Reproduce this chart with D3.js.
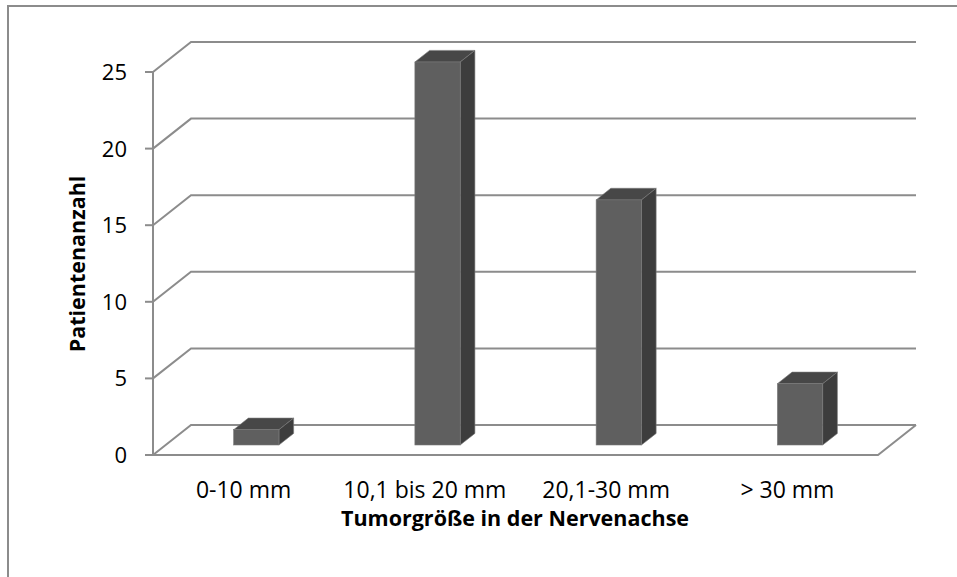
<!DOCTYPE html>
<html>
<head>
<meta charset="utf-8">
<script src="https://cdn.jsdelivr.net/npm/d3@7/dist/d3.min.js"></script>
<style>
  html, body { margin: 0; padding: 0; background: #ffffff; }
  svg { display: block; }
  text { font-family: "Open Sans", Lato, sans-serif; fill: #000; }
</style>
</head>
<body>
<svg id="chart" width="957" height="577"></svg>
<script>
// Patient counts per tumour size class
const categories = ["0-10 mm", "10,1 bis 20 mm", "20,1-30 mm", "> 30 mm"];
const patients = [1, 25, 16, 4];
const yTicks = [0, 5, 10, 15, 20, 25];
const xTitle = "Tumorgröße in der Nervenachse";
const yTitle = "Patientenanzahl";

const svg = d3.select("#chart");

// Front plane of the 3D box
const left = 153, right = 878, floorY = 455, topY = 72;
// Depth offset from front to back wall
const depthX = 38, depthY = -30;

const x = d3.scaleBand().domain(categories).range([left, right]).paddingInner(0.75).paddingOuter(0.375);
const y = d3.scaleLinear().domain([0, 25]).range([floorY, topY]);

const gridColor = "#8c8c8c";

// Outer chart border (left and top visible)
svg.append("path")
  .attr("d", "M8,577 L8,6 L957,6")
  .attr("fill", "none").attr("stroke", "#8c8c8c").attr("stroke-width", 2);

// Gridlines: diagonal on the side wall, horizontal on the back wall
const grid = svg.append("g").attr("fill", "none").attr("stroke", gridColor).attr("stroke-width", 2);
yTicks.forEach(t => {
  const yy = y(t);
  grid.append("path")
    .attr("d", `M${left},${yy} L${left + depthX},${yy + depthY} L${right + depthX},${yy + depthY}`);
  grid.append("line")
    .attr("x1", left - 8).attr("x2", left).attr("y1", yy).attr("y2", yy);
});
// Floor front edge and right side edge
grid.append("path")
  .attr("d", `M${left},${floorY} L${right},${floorY} L${right + depthX},${floorY + depthY}`);
// Front vertical axis
grid.append("line")
  .attr("x1", left).attr("x2", left).attr("y1", y(25)).attr("y2", floorY);

// Bars sit between these depth fractions of the floor
const d0 = 1 / 3, d1 = 0.72;
const bars = svg.append("g");
categories.forEach((c, i) => {
  const v = patients[i];
  const fx = x(c) + depthX * d0;
  const w = x.bandwidth();
  const base = y(0) + depthY * d0;
  const topF = y(v) + depthY * d0;
  const ddx = depthX * (d1 - d0), ddy = depthY * (d1 - d0);
  // top face
  bars.append("path")
    .attr("d", `M${fx},${topF} L${fx + ddx},${topF + ddy} L${fx + w + ddx},${topF + ddy} L${fx + w},${topF} Z`)
    .attr("fill", "#474747").attr("stroke", "#7a7a7a").attr("stroke-width", 0.6);
  // side face
  bars.append("path")
    .attr("d", `M${fx + w},${topF} L${fx + w + ddx},${topF + ddy} L${fx + w + ddx},${base + ddy} L${fx + w},${base} Z`)
    .attr("fill", "#3d3d3d").attr("stroke", "#7a7a7a").attr("stroke-width", 0.6);
  // front face
  bars.append("rect")
    .attr("x", fx).attr("y", topF).attr("width", w).attr("height", base - topF)
    .attr("fill", "#5f5f5f").attr("stroke", "#7a7a7a").attr("stroke-width", 0.6);
});

// Y tick labels
svg.append("g").selectAll("text").data(yTicks).join("text")
  .attr("x", 127).attr("y", d => y(d))
  .attr("dy", "0.36em")
  .attr("text-anchor", "end")
  .attr("font-size", 22)
  .text(d => d);

// Category labels
svg.append("g").selectAll("text").data(categories).join("text")
  .attr("x", d => x(d) + x.bandwidth() / 2)
  .attr("y", 498)
  .attr("text-anchor", "middle")
  .attr("font-size", 23)
  .text(d => d);

// Axis titles
svg.append("text")
  .attr("x", 515).attr("y", 526)
  .attr("text-anchor", "middle")
  .attr("font-size", 21.5).attr("font-weight", "bold")
  .text(xTitle);

svg.append("text")
  .attr("transform", "translate(85,264) rotate(-90)")
  .attr("text-anchor", "middle")
  .attr("font-size", 21.5).attr("font-weight", "bold")
  .text(yTitle);
</script>
</body>
</html>
